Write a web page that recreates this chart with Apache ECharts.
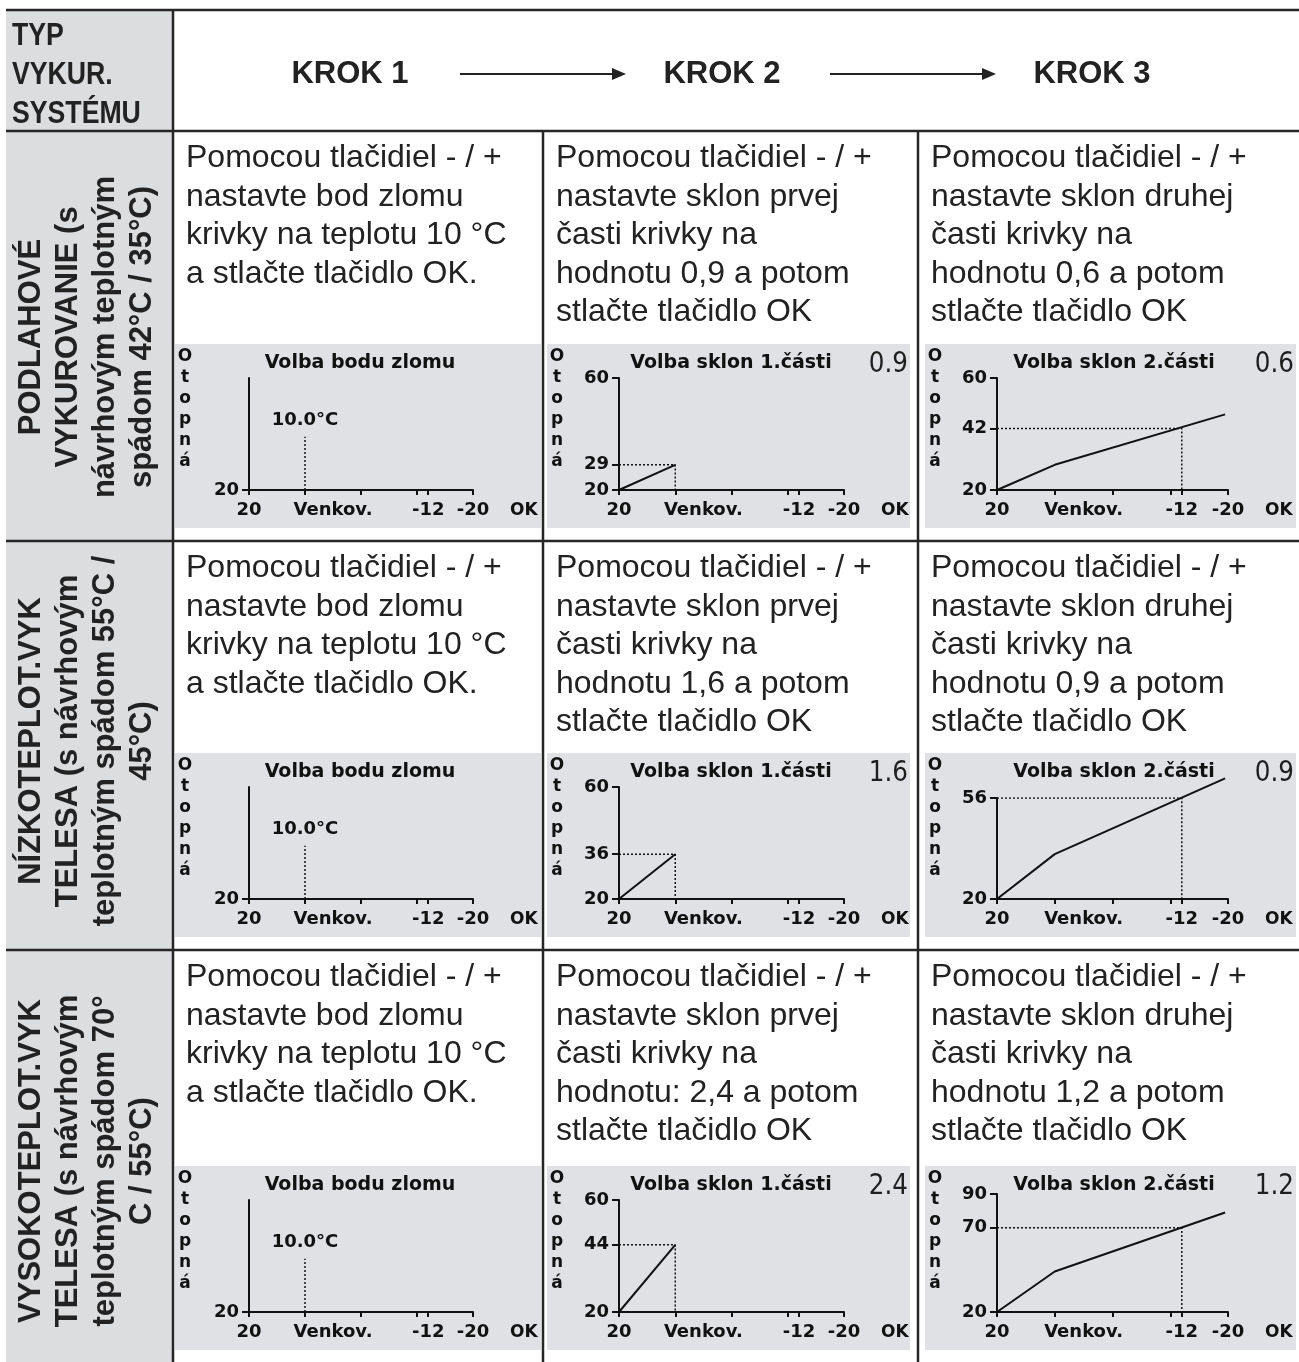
<!DOCTYPE html>
<html><head><meta charset="utf-8">
<script src="https://cdn.jsdelivr.net/npm/echarts@6/dist/echarts.min.js"></script>
<style>html,body{margin:0;padding:0;background:#fff}#c{width:1299px;height:1362px}</style>
</head><body><div id="c"></div>
<script>
// ---------- data ----------
const cornerTitle = ['TYP', 'VYKUR.', 'SYSTÉMU'];
const stepTitles = ['KROK 1', 'KROK 2', 'KROK 3'];
const rowTitles = [
  ['PODLAHOVÉ', 'VYKUROVANIE (s', 'návrhovým teplotným', 'spádom 42°C / 35°C)'],
  ['NÍZKOTEPLOT.VYK', 'TELESA (s návrhovým', 'teplotným spádom 55°C /', '45°C)'],
  ['VYSOKOTEPLOT.VYK', 'TELESA (s návrhovým', 'teplotným spádom 70°', 'C / 55°C)']
];
const instructions = [
  [
    ['Pomocou tlačidiel - / +', 'nastavte bod zlomu', 'krivky na teplotu 10 °C', 'a stlačte tlačidlo OK.'],
    ['Pomocou tlačidiel - / +', 'nastavte sklon prvej', 'časti krivky na', 'hodnotu 0,9 a potom', 'stlačte tlačidlo OK'],
    ['Pomocou tlačidiel - / +', 'nastavte sklon druhej', 'časti krivky na', 'hodnotu 0,6 a potom', 'stlačte tlačidlo OK']
  ],
  [
    ['Pomocou tlačidiel - / +', 'nastavte bod zlomu', 'krivky na teplotu 10 °C', 'a stlačte tlačidlo OK.'],
    ['Pomocou tlačidiel - / +', 'nastavte sklon prvej', 'časti krivky na', 'hodnotu 1,6 a potom', 'stlačte tlačidlo OK'],
    ['Pomocou tlačidiel - / +', 'nastavte sklon druhej', 'časti krivky na', 'hodnotu 0,9 a potom', 'stlačte tlačidlo OK']
  ],
  [
    ['Pomocou tlačidiel - / +', 'nastavte bod zlomu', 'krivky na teplotu 10 °C', 'a stlačte tlačidlo OK.'],
    ['Pomocou tlačidiel - / +', 'nastavte sklon prvej', 'časti krivky na', 'hodnotu: 2,4 a potom', 'stlačte tlačidlo OK'],
    ['Pomocou tlačidiel - / +', 'nastavte sklon druhej', 'časti krivky na', 'hodnotu 1,2 a potom', 'stlačte tlačidlo OK']
  ]
];
const screenTitles = ['Volba bodu zlomu', 'Volba sklon 1.části', 'Volba sklon 2.části'];
const screenYName = 'Otopná';
const screenOk = 'OK';
const slope1Values = ['0.9', '1.6', '2.4'];
const slope2Values = ['0.6', '0.9', '1.2'];

const xTickValues = [20, 10, 0, -10, -12, -20];
const xLabelValues = [20, 5, -12, -20];
const xLabelTexts = ['20', 'Venkov.', '-12', '-20'];

const breakLabel = '10.0°C';
const step1Guide = [[10, 20], [10, 39]];
const step1LabelPoint = [[10, 45]];
const step1YTicks = [20];
const step1YMax = [60, 60, 60];

const step2Curve = [
  [[20, 20], [10, 29]],
  [[20, 20], [10, 36]],
  [[20, 20], [10, 44]]
];
const step2Guide = [
  [[20, 29], [10, 29], [10, 20]],
  [[20, 36], [10, 36], [10, 20]],
  [[20, 44], [10, 44], [10, 20]]
];
const step2YTicks = [[60, 29, 20], [60, 36, 20], [60, 44, 20]];
const step2YMax = [60, 60, 60];

const step3Curve = [
  [[20, 20], [10, 29], [-19.5, 47]],
  [[20, 20], [10, 36], [-19.5, 63]],
  [[20, 20], [10, 44], [-19.5, 79]]
];
const step3Guide = [
  [[20, 42], [-12, 42], [-12, 20]],
  [[20, 56], [-12, 56], [-12, 20]],
  [[20, 70], [-12, 70], [-12, 20]]
];
const step3YTicks = [[60, 42, 20], [56, 20], [90, 70, 20]];
const step3YMax = [60, 56, 90];

// ---------- layout ----------
const W = 1299, H = 1362;
const LINE = '#262626';
const INK = '#222';
const LCD_INK = '#111';
const TFONT = '"Liberation Sans", Arial, sans-serif';
const LFONT = '"DejaVu Sans", sans-serif';
const tableLeft = 6, headerTop = 10, headerBottom = 131;
const colBorders = [173, 543, 918];
const rowTops = [131, 541, 950];
const rowCenters = [337, 741, 1161];
const textX = [186, 556, 931];
const lcdCols = [
  {x: 175, w: 366, axL: 249, axR: 473, tx: 360, vr: null},
  {x: 547, w: 363, axL: 619, axR: 844, tx: 731, vr: 908},
  {x: 925, w: 371, axL: 997, axR: 1228, tx: 1114, vr: 1294}
];
const lcdOff = [0, 409, 822];
const plotH = [[112, 112, 112], [112, 112, 101], [112, 112, 118]];

const g = [];
// left column grey
g.push({type: 'rect', z: -30, shape: {x: tableLeft, y: headerTop, width: colBorders[0] - tableLeft, height: H - headerTop}, style: {fill: '#dcdddf'}});
// lcd backgrounds
for (let r = 0; r < 3; r++) for (let c = 0; c < 3; c++) {
  const L = lcdCols[c];
  g.push({type: 'rect', z: -30, shape: {x: L.x, y: 344 + lcdOff[r], width: L.w, height: 184}, style: {fill: '#dfe1e5'}});
}
// table lines
function hline(y, x1, x2, w) { g.push({type: 'line', z: 5, shape: {x1, y1: y, x2, y2: y}, style: {stroke: LINE, lineWidth: w}}); }
function vline(x, y1, y2, w) { g.push({type: 'line', z: 5, shape: {x1: x, y1, x2: x, y2}, style: {stroke: LINE, lineWidth: w}}); }
hline(headerTop, tableLeft, W, 2.5);
hline(headerBottom, tableLeft, W, 2.5);
hline(rowTops[1], tableLeft, W, 2.5);
hline(rowTops[2], tableLeft, W, 2.5);
vline(colBorders[0], headerTop, H, 2.5);
vline(colBorders[1], headerBottom, H, 2.5);
vline(colBorders[2], headerBottom, H, 2.5);

// corner header
cornerTitle.forEach((t, i) => {
  g.push({type: 'text', z: 10, x: 12, y: 36 + i * 39, scaleX: 0.86,
    style: {text: t, font: 'bold 31px ' + TFONT, fill: INK, align: 'left', verticalAlign: 'middle'}});
});
// step headers
const stepX = [350, 722, 1092];
stepTitles.forEach((t, i) => {
  g.push({type: 'text', z: 10, x: stepX[i], y: 74,
    style: {text: t, font: 'bold 31px ' + TFONT, fill: INK, align: 'center', verticalAlign: 'middle'}});
});
[[460, 614], [830, 984]].forEach(([a, b]) => {
  g.push({type: 'line', z: 10, shape: {x1: a, y1: 74, x2: b, y2: 74}, style: {stroke: INK, lineWidth: 2}});
  g.push({type: 'polygon', z: 10, shape: {points: [[b - 2, 68], [b + 12, 74], [b - 2, 80]]}, style: {fill: INK}});
});
// row titles (rotated)
rowTitles.forEach((lines, r) => {
  g.push({type: 'text', z: 10, x: 87, y: rowCenters[r], rotation: Math.PI / 2,
    style: {text: lines.join('\n'), font: 'bold 31px ' + TFONT, lineHeight: 37, fill: INK, align: 'center', verticalAlign: 'middle'}});
});
// instructions
for (let r = 0; r < 3; r++) for (let c = 0; c < 3; c++) {
  g.push({type: 'text', z: 10, x: textX[c], y: rowTops[r] + 8,
    style: {text: instructions[r][c].join('\n'), font: '32px ' + TFONT, lineHeight: 38.5, fill: INK, align: 'left', verticalAlign: 'top'}});
}
// lcd texts
const slopeVals = [null, slope1Values, slope2Values];
for (let r = 0; r < 3; r++) for (let c = 0; c < 3; c++) {
  const L = lcdCols[c], o = lcdOff[r];
  g.push({type: 'text', z: 10, x: L.tx, y: 363 + o,
    style: {text: screenTitles[c], font: 'bold 19px ' + LFONT, fill: LCD_INK, align: 'center', verticalAlign: 'middle'}});
  g.push({type: 'text', z: 10, x: L.x + 10, y: 346 + o,
    style: {text: screenYName.split('').join('\n'), font: 'bold 17px ' + LFONT, lineHeight: 21, fill: LCD_INK, align: 'center', verticalAlign: 'top'}});
  g.push({type: 'text', z: 10, x: L.axR + 37, y: 511 + o,
    style: {text: screenOk, font: 'bold 17px ' + LFONT, fill: LCD_INK, align: 'left', verticalAlign: 'middle'}});
  if (slopeVals[c]) {
    g.push({type: 'text', z: 10, x: L.vr, y: 364 + o, scaleX: 0.85,
      style: {text: slopeVals[c][r], font: 'normal 29px ' + LFONT, fill: '#1e1e1e', align: 'right', verticalAlign: 'middle'}});
  }
}

// ---------- charts ----------
const grids = [], xAxes = [], yAxes = [], series = [];
const axisLineStyle = {color: LCD_INK, width: 2};
const lcdLabel = {color: LCD_INK, fontFamily: LFONT, fontWeight: 'bold', fontSize: 18};
let idx = 0;
for (let r = 0; r < 3; r++) for (let c = 0; c < 3; c++) {
  const L = lcdCols[c], o = lcdOff[r];
  const bottomY = 490 + o;
  const ph = plotH[r][c];
  let yMax, yTicks;
  if (c === 0) { yMax = step1YMax[r]; yTicks = step1YTicks; }
  else if (c === 1) { yMax = step2YMax[r]; yTicks = step2YTicks[r]; }
  else { yMax = step3YMax[r]; yTicks = step3YTicks[r]; }
  grids.push({left: L.axL, top: bottomY - ph, width: L.axR - L.axL, height: ph, containLabel: false, outerBoundsMode: 'none'});
  xAxes.push({
    gridIndex: idx, type: 'value', min: -20, max: 20, inverse: true,
    axisLine: {show: true, onZero: false, lineStyle: axisLineStyle},
    axisTick: {show: true, customValues: xTickValues, length: 5, lineStyle: axisLineStyle},
    axisLabel: Object.assign({show: true, customValues: xLabelValues, margin: 11,
      formatter: v => { const k = xLabelValues.indexOf(v); return k >= 0 ? xLabelTexts[k] : ''; }}, lcdLabel),
    splitLine: {show: false}
  });
  yAxes.push({
    gridIndex: idx, type: 'value', min: 20, max: yMax,
    axisLine: {show: true, onZero: false, lineStyle: axisLineStyle},
    axisTick: {show: true, customValues: yTicks, length: 7, lineStyle: axisLineStyle},
    axisLabel: Object.assign({show: true, customValues: yTicks, margin: 10}, lcdLabel),
    splitLine: {show: false}
  });
  const dotted = {color: LCD_INK, width: 1.5, type: [2, 2]};
  if (c === 0) {
    series.push({type: 'line', xAxisIndex: idx, yAxisIndex: idx, data: step1Guide, symbol: 'none', lineStyle: dotted, silent: true});
    series.push({type: 'scatter', xAxisIndex: idx, yAxisIndex: idx, data: step1LabelPoint, symbol: 'circle', symbolSize: 1,
      itemStyle: {color: '#dfe1e5', opacity: 1},
      label: Object.assign({show: true, position: 'inside', formatter: breakLabel, textBorderWidth: 0, opacity: 1}, lcdLabel),
      emphasis: {disabled: true}});
  } else if (c === 1) {
    series.push({type: 'line', xAxisIndex: idx, yAxisIndex: idx, data: step2Guide[r], symbol: 'none', lineStyle: dotted});
    series.push({type: 'line', xAxisIndex: idx, yAxisIndex: idx, data: step2Curve[r], symbol: 'none', clip: false, lineStyle: {color: LCD_INK, width: 2}});
  } else {
    series.push({type: 'line', xAxisIndex: idx, yAxisIndex: idx, data: step3Guide[r], symbol: 'none', lineStyle: dotted});
    series.push({type: 'line', xAxisIndex: idx, yAxisIndex: idx, data: step3Curve[r], symbol: 'none', clip: false, lineStyle: {color: LCD_INK, width: 2}});
  }
  idx++;
}

const chart = echarts.init(document.getElementById('c'), null, {renderer: 'canvas'});
chart.setOption({
  animation: false,
  backgroundColor: '#ffffff',
  graphic: {elements: g},
  grid: grids,
  xAxis: xAxes,
  yAxis: yAxes,
  series: series
});
</script></body></html>
